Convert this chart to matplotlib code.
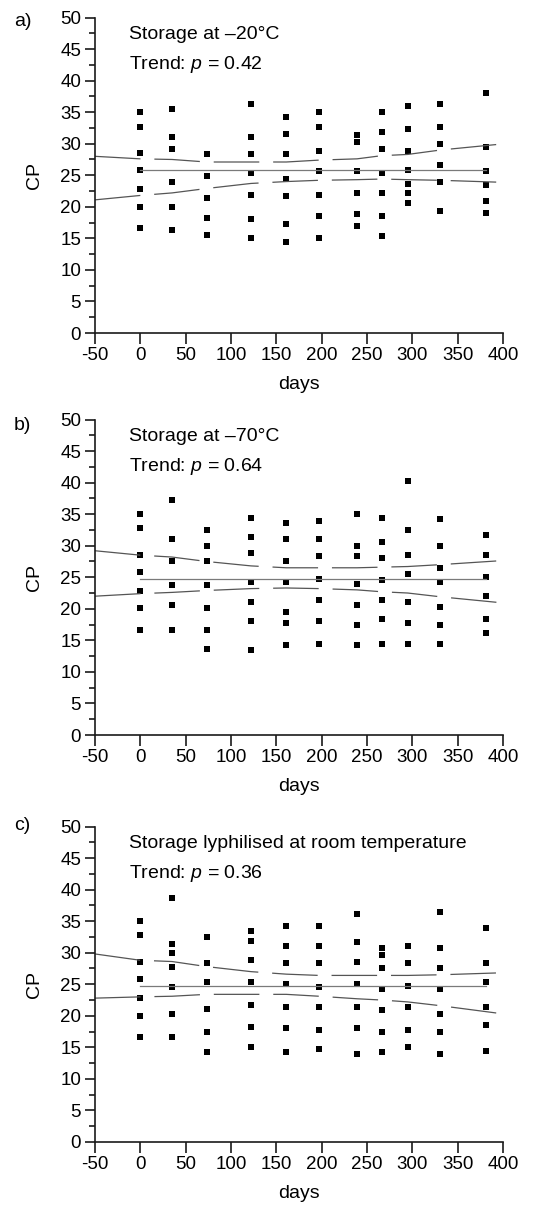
import matplotlib
matplotlib.use('Agg')
import matplotlib.pyplot as plt
from matplotlib.ticker import MultipleLocator

# sampling days (one column of points per day)
days = [0, 35, 73, 122, 161, 197, 239, 266, 295, 331, 381]

# CP values per column, a) -20 C
cp_a = [
    [35.0, 32.7, 28.6, 25.8, 22.8, 20.0, 16.7],
    [35.5, 31.0, 29.1, 23.9, 20.0, 16.4],
    [28.3, 24.9, 21.4, 18.3, 15.6],
    [36.3, 31.0, 28.3, 25.3, 21.9, 18.1, 15.0],
    [34.2, 31.6, 28.3, 24.4, 21.7, 17.2, 14.4],
    [35.0, 32.7, 28.9, 25.6, 21.9, 18.6, 15.0],
    [31.4, 30.3, 25.6, 22.2, 18.9, 17.0],
    [35.0, 31.9, 29.1, 25.3, 22.2, 18.6, 15.3],
    [36.0, 32.4, 28.9, 25.8, 23.6, 22.2, 20.6],
    [36.3, 32.7, 29.9, 26.7, 23.9, 19.4],
    [38.1, 29.4, 25.6, 23.4, 20.9, 19.0],
]

# b) -70 C
cp_b = [
    [35.0, 32.8, 28.6, 25.9, 22.8, 20.1, 16.7],
    [37.2, 31.1, 27.5, 23.7, 20.6, 16.7],
    [32.5, 30.0, 27.5, 23.7, 20.1, 16.7, 13.7],
    [34.4, 31.4, 28.9, 24.2, 21.1, 18.1, 13.4],
    [33.6, 31.1, 27.5, 24.2, 19.5, 17.8, 14.2],
    [33.9, 31.1, 28.4, 24.8, 21.4, 18.1, 14.5],
    [35.0, 30.0, 28.4, 23.9, 20.6, 17.5, 14.2],
    [34.4, 30.6, 28.1, 24.5, 21.4, 18.4, 14.5],
    [40.2, 32.5, 28.6, 25.5, 21.1, 17.8, 14.5],
    [34.2, 30.0, 26.4, 24.2, 20.3, 17.5, 14.5],
    [31.7, 28.6, 25.0, 22.0, 18.4, 16.2],
]

# c) lyophilised, room temperature
cp_c = [
    [35.0, 32.8, 28.6, 25.9, 22.8, 20.0, 16.7],
    [38.6, 31.4, 30.0, 27.8, 24.5, 20.3, 16.7],
    [32.5, 28.4, 25.3, 21.1, 17.5, 14.3],
    [33.4, 31.9, 28.9, 25.3, 21.7, 18.3, 15.1],
    [34.2, 31.1, 28.4, 25.1, 21.4, 18.1, 14.3],
    [34.2, 31.1, 28.4, 24.5, 21.4, 17.8, 14.8],
    [36.1, 31.7, 28.6, 25.1, 21.4, 18.1, 14.0],
    [30.8, 29.7, 27.5, 24.2, 20.9, 17.5, 14.3],
    [31.1, 28.4, 24.8, 21.4, 17.8, 15.1],
    [36.4, 30.8, 27.5, 24.2, 20.3, 17.5, 14.0],
    [33.9, 28.4, 25.3, 21.4, 18.6, 14.5],
]

band_days = [-50, 0, 35, 73, 122, 161, 197, 239, 266, 295, 331, 395]
upper_a = [28.0, 27.6, 27.5, 27.1, 27.1, 27.1, 27.4, 27.6, 28.1, 28.3, 29.0, 29.9]
lower_a = [21.1, 21.8, 22.2, 22.9, 23.7, 24.0, 24.2, 24.3, 24.4, 24.3, 24.2, 23.9]
upper_b = [29.2, 28.5, 28.2, 27.5, 26.8, 26.5, 26.5, 26.5, 26.6, 26.7, 27.0, 27.6]
lower_b = [22.0, 22.4, 22.6, 22.9, 23.2, 23.3, 23.2, 23.0, 22.7, 22.5, 21.9, 21.0]
upper_c = [29.8, 28.8, 28.6, 27.8, 27.0, 26.6, 26.4, 26.4, 26.4, 26.4, 26.5, 26.8]
lower_c = [22.8, 23.0, 23.1, 23.4, 23.4, 23.4, 23.1, 22.7, 22.5, 22.2, 21.6, 20.4]

# mean CP (horizontal line)
mean_a = 25.8
mean_b = 24.8
mean_c = 24.8

titles = ['Storage at \u201320\u00b0C',
          'Storage at \u201370\u00b0C',
          'Storage lyphilised at room temperature']
p_values = ['0.42', '0.64', '0.36']
panel_labels = ['a)', 'b)', 'c)']

plt.rcParams['font.family'] = ['Liberation Sans', 'DejaVu Sans']
plt.rcParams['mathtext.fontset'] = 'custom'
plt.rcParams['mathtext.rm'] = 'Liberation Sans'
plt.rcParams['mathtext.it'] = 'Liberation Sans:italic'
plt.rcParams['lines.scale_dashes'] = False
plt.rcParams['axes.unicode_minus'] = False


def draw_panel(ax, cp, upper, lower, mean, title, p):
    """
    Draws one panel: points per day, mean line and dashed band.
    """
    for d, vals in zip(days, cp):
        ax.plot([d] * len(vals), vals, 's', color='black', markersize=3.7,
                markeredgewidth=0)
    ax.plot([days[0], days[-1]], [mean, mean], color='#7a7a7a', lw=0.9)
    dash = (0, (32.8, 10.0))
    ax.plot(band_days, upper, color='#555555', lw=0.9, linestyle=dash)
    ax.plot(band_days, lower, color='#555555', lw=0.9, linestyle=dash)

    ax.set_xlim(-50, 400)
    ax.set_ylim(0, 50)
    ax.xaxis.set_major_locator(MultipleLocator(50))
    ax.yaxis.set_major_locator(MultipleLocator(5))
    ax.yaxis.set_minor_locator(MultipleLocator(2.5))
    for s in ['top', 'right']:
        ax.spines[s].set_visible(False)
    for s in ['left', 'bottom']:
        ax.spines[s].set_linewidth(1.2)
        ax.spines[s].set_color('#1a1a1a')
    ax.tick_params(axis='both', which='major', direction='out', width=1.2,
                   labelsize=13.5, colors='#1a1a1a', labelcolor='black')
    ax.tick_params(axis='x', which='major', length=8, pad=2)
    ax.tick_params(axis='y', which='major', length=7, pad=3)
    ax.tick_params(axis='y', which='minor', direction='out', length=4.5,
                   width=1.2, colors='#1a1a1a')
    ax.set_xlabel('days', fontsize=14, labelpad=9)
    ax.set_ylabel('CP', fontsize=14, labelpad=12)

    ax.text(0.084, 0.945, title, transform=ax.transAxes, fontsize=14,
            va='center', ha='left')
    ax.text(0.084, 0.85, 'Trend: $p$ = ' + p, transform=ax.transAxes,
            fontsize=14, va='center', ha='left')


fig = plt.figure(figsize=(5.38, 12.07), dpi=100)

# axes boxes in figure fractions
left = 95 / 538
width = 408 / 538
height = 315.5 / 1207
bottoms = [1 - 333 / 1207, 1 - 735 / 1207, 1 - 1142 / 1207]
label_y = [1 - 21 / 1207, 1 - 425 / 1207, 1 - 825 / 1207]

data = [(cp_a, upper_a, lower_a, mean_a),
        (cp_b, upper_b, lower_b, mean_b),
        (cp_c, upper_c, lower_c, mean_c)]

for i, (cp, up, lo, m) in enumerate(data):
    ax = fig.add_axes([left, bottoms[i], width, height])
    draw_panel(ax, cp, up, lo, m, titles[i], p_values[i])
    fig.text(14 / 538, label_y[i], panel_labels[i], fontsize=14, va='center')

plt.savefig('out.png', dpi=100)
